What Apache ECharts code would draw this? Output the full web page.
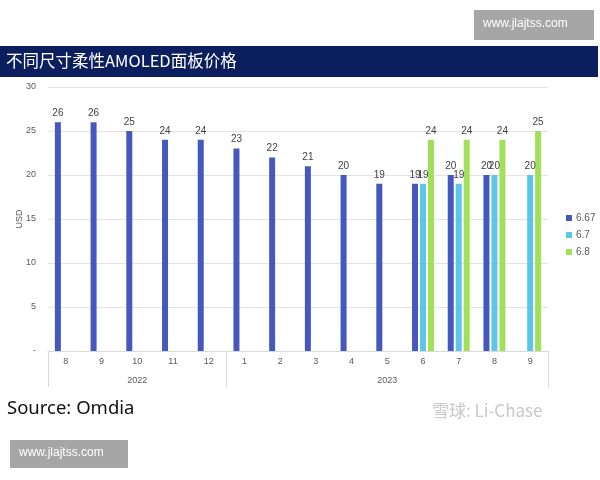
<!DOCTYPE html>
<html><head><meta charset="utf-8">
<script src="https://cdn.jsdelivr.net/npm/echarts@6/dist/echarts.min.js"></script>
<style>html,body{margin:0;padding:0;background:#fff}#c{width:600px;height:480px}</style>
</head><body><div id="c"></div>
<script>
const months = ['8','9','10','11','12','1','2','3','4','5','6','7','8','9'];
const monthYears = ['2022','2022','2022','2022','2022','2023','2023','2023','2023','2023','2023','2023','2023','2023'];
const seriesNames = ['6.67','6.7','6.8'];
const s667 = [26,26,25,24,24,23,22,21,20,19,19,20,20,null];
const s67  = [null,null,null,null,null,null,null,null,null,null,19,19,20,20];
const s68  = [null,null,null,null,null,null,null,null,null,null,24,24,24,25];
const colors = ['#4658be','#5cc6ea','#a2e05a'];

// year group boundaries and centres
const groupStart = {}, yearMid = {};
monthYears.forEach((y,i)=>{ if(!(y in groupStart)) groupStart[y]=i; });
const yrs = Object.keys(groupStart);
yrs.forEach(y=>{
  const idx = monthYears.map((v,i)=>v===y?i:-1).filter(i=>i>=0);
  yearMid[idx[Math.floor(idx.length/2)]] = y;
});
const boundaryIdx = new Set(Object.values(groupStart));

const chart = echarts.init(document.getElementById('c'), null, {renderer:'canvas'});
const lbl = {show:true, position:'top', distance:4, fontSize:10, color:'#404040', fontFamily:'Liberation Sans, Arial'};
chart.setOption({
  animation:false,
  backgroundColor:'#fff',
  color: colors,
  grid:{left:48, right:52, top:87, bottom:129, containLabel:false},
  legend:{
    orient:'vertical', left:561, top:208, itemWidth:6, itemHeight:6, itemGap:7,
    icon:'rect', data:seriesNames,
    textStyle:{fontSize:10, color:'#595959', fontFamily:'Liberation Sans, Arial', padding:[0,0,0,-1]}
  },
  xAxis:[{
    type:'category', data:months, position:'bottom',
    axisLine:{show:true, lineStyle:{color:'#d9d9d9'}},
    axisTick:{show:true, length:36, interval:(i)=>boundaryIdx.has(i), lineStyle:{color:'#d9d9d9'}},
    axisLabel:{margin:6, fontSize:9, color:'#595959', interval:0, fontFamily:'Liberation Sans, Arial'}
  },{
    type:'category', data:monthYears, position:'bottom', offset:0,
    axisLine:{show:false}, axisTick:{show:false},
    axisLabel:{margin:25, fontSize:9, color:'#595959', interval:0, fontFamily:'Liberation Sans, Arial',
      formatter:(v,i)=> (i in yearMid) ? yearMid[i] : ''}
  }],
  yAxis:{
    type:'value', min:0, max:30, interval:5,
    name:'USD', nameLocation:'middle', nameRotate:90, nameGap:24, nameMoveOverlap:false,
    nameTextStyle:{fontSize:9, color:'#595959', fontFamily:'Liberation Sans, Arial'},
    axisLine:{show:false}, axisTick:{show:false},
    axisLabel:{margin:12, fontSize:9, color:'#595959', fontFamily:'Liberation Sans, Arial',
      formatter:(v)=> v===0 ? '-' : String(v)},
    splitLine:{lineStyle:{color:'#e3e3e3'}}
  },
  series:[
    {name:seriesNames[0], type:'bar', data:s667, barWidth:6, barGap:'33%', label:lbl},
    {name:seriesNames[1], type:'bar', data:s67, barWidth:6, barGap:'33%', label:lbl},
    {name:seriesNames[2], type:'bar', data:s68, barWidth:6, barGap:'33%', label:lbl}
  ],
  graphic:[
    {type:'rect', left:474, top:10, shape:{width:120, height:30}, style:{fill:'#a6a6a6'}},
    {type:'text', left:483, top:18, style:{text:'www.jlajtss.com', fill:'#fff', font:'12px Liberation Sans, Arial'}},
    {type:'rect', left:0, top:46, shape:{width:598, height:31}, style:{fill:'#0b1f5f'}},
    {type:'text', left:6, top:52, style:{text:'不同尺寸柔性AMOLED面板价格', fill:'#fff', font:'16.5px Noto Sans CJK SC'}},
    {type:'text', left:7, top:399, style:{text:'Source: Omdia', fill:'#111', font:'18.5px Noto Sans'}},
    {type:'text', left:432, top:402, style:{text:'雪球: Li-Chase', fill:'#c8c8c8', font:'17px Noto Sans CJK SC'}},
    {type:'rect', left:10, top:440, shape:{width:118, height:28}, style:{fill:'#a6a6a6'}},
    {type:'text', left:19, top:447, style:{text:'www.jlajtss.com', fill:'#fff', font:'12px Liberation Sans, Arial'}}
  ]
});
</script></body></html>
